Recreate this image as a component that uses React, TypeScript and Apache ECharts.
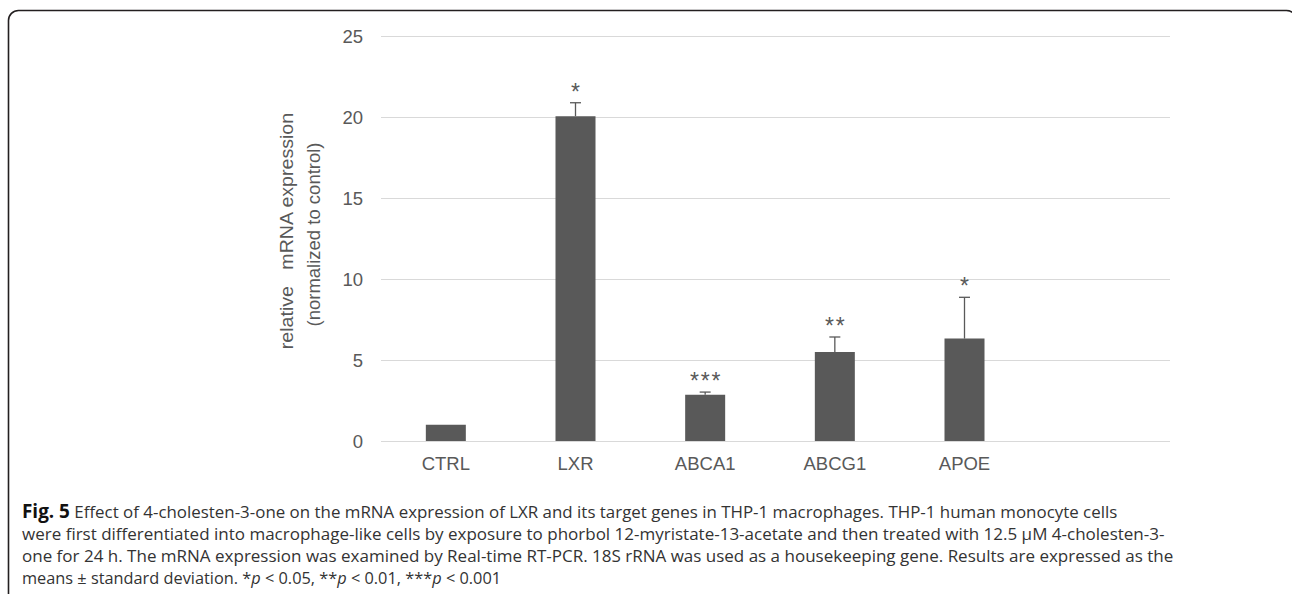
import React, { useEffect, useRef } from "react";
import * as echarts from "echarts";

const categories = ["CTRL", "LXR", "ABCA1", "ABCG1", "APOE", ""];
const means = [1.0, 20.05, 2.85, 5.5, 6.32];
const sds = [0, 0.83, 0.17, 0.92, 2.55];
const stars = ["", "*", "***", "**", "*"];
const yMin = 0;
const yMax = 25;
const yInterval = 5;
const yTitleLines = ["relative   mRNA expression", "(normalized to control)"];
const captionLines = [
  "{b|Fig. 5} Effect of 4-cholesten-3-one on the mRNA expression of LXR and its target genes in THP-1 macrophages. THP-1 human monocyte cells",
  "were first differentiated into macrophage-like cells by exposure to phorbol 12-myristate-13-acetate and then treated with 12.5 µM 4-cholesten-3-",
  "one for 24 h. The mRNA expression was examined by Real-time RT-PCR. 18S rRNA was used as a housekeeping gene. Results are expressed as the",
  "means ± standard deviation. *{i|p} < 0.05, **{i|p} < 0.01, ***{i|p} < 0.001",
];
const captionScale = [0.995, 1.0, 1.0, 0.96];

const BAR = "#595959";
const AXIS_TEXT = "#595959";
const GRID = "#d9d9d9";
const FONT = "'Liberation Sans', Arial, sans-serif";
const CAP_FONT = "'Open Sans', 'Noto Sans', sans-serif";

export default function App() {
  const ref = useRef<HTMLDivElement>(null);
  useEffect(() => {
    if (!ref.current) return;
    const chart = echarts.init(ref.current, undefined, { renderer: "svg" });
    const errData = means.map((m, i) => [i, m, sds[i]]);
    const titleGraphics = [
      { x: 287, y: 231, s: 1.06 },
      { x: 313, y: 234.5, s: 1 },
    ].map((p, k) => ({
      type: "text",
      x: p.x,
      y: p.y,
      rotation: Math.PI / 2,
      scaleX: p.s,
      silent: true,
      style: {
        text: yTitleLines[k],
        fontSize: 18.5,
        fontFamily: FONT,
        fill: AXIS_TEXT,
        align: "center",
        verticalAlign: "middle",
      },
    }));
    const captionGraphics = captionLines.map((line, k) => ({
      type: "text",
      x: 22,
      y: 511 + 22 * k,
      scaleX: captionScale[k],
      silent: true,
      style: {
        text: line,
        fontSize: 17,
        fontFamily: CAP_FONT,
        fill: "#333333",
        align: "left",
        verticalAlign: "middle",
        rich: {
          b: { fontWeight: "bold", fontFamily: CAP_FONT, fontSize: 19, fill: "#111111" },
          i: { fontStyle: "italic", fontFamily: CAP_FONT, fontSize: 17, fill: "#333333" },
        },
      },
    }));
    chart.setOption({
      animation: false,
      backgroundColor: "#ffffff",
      grid: [
        { left: 381, top: 36, width: 789, height: 405 },
        { left: 381, top: 36, width: 778, height: 405 },
      ],
      xAxis: [
        { type: "value", gridIndex: 0, show: false, min: 0, max: 1 },
        {
          type: "category",
          gridIndex: 1,
          data: categories,
          axisLine: { show: false },
          axisTick: { show: false },
          axisLabel: { color: AXIS_TEXT, fontFamily: FONT, fontSize: 18.5, margin: 13 },
        },
      ],
      yAxis: [
        {
          type: "value",
          gridIndex: 0,
          min: yMin,
          max: yMax,
          interval: yInterval,
          axisLine: { show: false },
          axisTick: { show: false },
          splitLine: { lineStyle: { color: GRID, width: 1 } },
          axisLabel: { color: AXIS_TEXT, fontFamily: FONT, fontSize: 18.5, margin: 18 },
        },
        {
          type: "value",
          gridIndex: 1,
          min: yMin,
          max: yMax,
          interval: yInterval,
          show: false,
          splitLine: { show: false },
        },
      ],
      series: [
        {
          type: "bar",
          xAxisIndex: 1,
          yAxisIndex: 1,
          data: means,
          barWidth: 40,
          itemStyle: { color: BAR },
        },
        {
          type: "custom",
          xAxisIndex: 1,
          yAxisIndex: 1,
          data: errData,
          z: 10,
          renderItem: (params: any, api: any) => {
            const i = api.value(0);
            const m = api.value(1);
            const sd = api.value(2);
            const base = api.coord([i, m]);
            const top = api.coord([i, m + sd]);
            const children: any[] = [];
            if (sd > 0) {
              children.push({
                type: "line",
                shape: { x1: base[0], y1: base[1], x2: top[0], y2: top[1] },
                style: { stroke: BAR, lineWidth: 1.3 },
              });
              children.push({
                type: "line",
                shape: { x1: top[0] - 5.5, y1: top[1], x2: top[0] + 5.5, y2: top[1] },
                style: { stroke: BAR, lineWidth: 1.3 },
              });
            }
            const s = stars[params.dataIndex] || "";
            const n = s.length;
            for (let k = 0; k < n; k++) {
              children.push({
                type: "text",
                x: top[0] + (k - (n - 1) / 2) * 10.7,
                y: top[1] - 11,
                style: {
                  text: "*",
                  fill: AXIS_TEXT,
                  fontSize: 23,
                  fontFamily: FONT,
                  align: "center",
                  verticalAlign: "middle",
                },
              });
            }
            return { type: "group", children };
          },
        },
      ],
      graphic: [
        {
          type: "rect",
          shape: { x: 8.5, y: 10.5, width: 1288, height: 620, r: 10 },
          style: { fill: "none", stroke: "#231f20", lineWidth: 1.6 },
          silent: true,
        },
        ...titleGraphics,
        ...captionGraphics,
      ],
    });
    return () => chart.dispose();
  }, []);
  return (
    <div
      ref={ref}
      style={{ position: "fixed", left: 0, top: 0, width: 1292, height: 594 }}
    />
  );
}
